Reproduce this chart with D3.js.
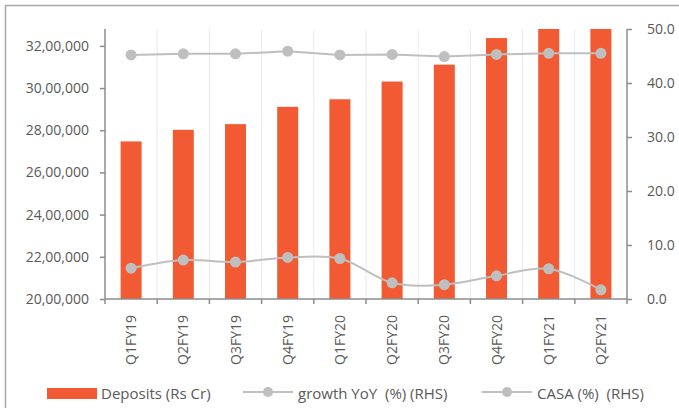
<!DOCTYPE html>
<html><head><meta charset="utf-8">
<script src="https://cdn.jsdelivr.net/npm/d3@7"></script>
<style>body{margin:0;background:#fff}svg{display:block}text{font-family:"Open Sans",sans-serif;fill:#595959}</style>
</head><body><svg id="c" width="679" height="408"></svg>
<script>
const categories = ["Q1FY19","Q2FY19","Q3FY19","Q4FY19","Q1FY20","Q2FY20","Q3FY20","Q4FY20","Q1FY21","Q2FY21"];
const deposits = [2747000,2802000,2829000,2911000,2947000,3031000,3111000,3237000,3280000,3280000];
const growthYoY = [5.7,7.2,6.85,7.7,7.5,3.0,2.65,4.3,5.6,1.7];
const casa = [45.2,45.4,45.4,45.9,45.2,45.3,44.9,45.3,45.5,45.5];
const leftTicks = [2000000,2200000,2400000,2600000,2800000,3000000,3200000];
const rightTicks = [0,10,20,30,40,50];
const seriesNames = ["Deposits (Rs Cr)","growth YoY  (%) (RHS)","CASA (%)  (RHS)"];

const svg = d3.select("#c");
const L=105, R=627, T=29, B=299;
const barColor="#f15a32", lineColor="#bfbfbf";

svg.append("rect").attr("x",5.5).attr("y",5.5).attr("width",690).attr("height",420)
  .attr("fill","none").attr("stroke","#a6a6a6").attr("stroke-width",1.5);

const x = d3.scaleBand().domain(categories).range([L,R]).padding(0);
const yL = d3.scaleLinear().domain([2000000,3280000]).range([B,T]).clamp(true);
const yR = d3.scaleLinear().domain([0,50]).range([B,T]);

const bounds = categories.map(c=>x(c)).slice(1);
svg.append("g").selectAll("line").data(bounds).join("line")
  .attr("x1",d=>d).attr("x2",d=>d).attr("y1",T).attr("y2",B)
  .attr("stroke","#ebebeb").attr("stroke-width",1);

const bw = 21;
svg.append("g").selectAll("rect").data(deposits).join("rect")
  .attr("x",(d,i)=>x(categories[i])+x.bandwidth()/2-bw/2)
  .attr("y",d=>yL(d)).attr("width",bw).attr("height",d=>B-yL(d))
  .attr("fill",barColor);

const fmtIN = v => { const s=String(v); const last3=s.slice(-3); let rest=s.slice(0,-3); rest=rest.replace(/\B(?=(\d{2})+(?!\d))/g,","); return rest? rest+","+last3 : last3; };
const gL = svg.append("g").attr("transform",`translate(${L},0)`)
  .call(d3.axisLeft(yL).tickValues(leftTicks).tickFormat(fmtIN).tickSizeOuter(0).tickSize(5).tickPadding(11));
gL.select(".domain").remove();
gL.append("line").attr("x1",0).attr("x2",0).attr("y1",T).attr("y2",B).attr("stroke","#8c8c8c").attr("stroke-width",1.5);
gL.selectAll(".tick line").attr("stroke","#8c8c8c").attr("stroke-width",1.5);
gL.selectAll("text").style("font-size","14px").attr("fill","#595959");

const gR = svg.append("g").attr("transform",`translate(${R},0)`)
  .call(d3.axisRight(yR).tickValues(rightTicks).tickFormat(d3.format(".1f")).tickSizeOuter(0).tickSize(5).tickPadding(15));
gR.select(".domain").remove();
gR.append("line").attr("x1",0).attr("x2",0).attr("y1",T).attr("y2",B).attr("stroke","#8c8c8c").attr("stroke-width",1.5);
gR.selectAll(".tick line").attr("stroke","#8c8c8c").attr("stroke-width",1.5);
gR.selectAll("text").style("font-size","14px").attr("fill","#595959");

const gX = svg.append("g");
gX.append("line").attr("x1",L).attr("x2",R).attr("y1",B).attr("y2",B).attr("stroke","#8c8c8c").attr("stroke-width",1.5);
const allBounds = categories.map(c=>x(c)).concat([x(categories[categories.length-1])+x.bandwidth()]);
gX.selectAll(".tk").data(allBounds).join("line").attr("class","tk")
  .attr("x1",d=>d).attr("x2",d=>d).attr("y1",B).attr("y2",B+5).attr("stroke","#8c8c8c").attr("stroke-width",1.5);
gX.selectAll("text").data(categories).join("text")
  .attr("transform",d=>`translate(${x(d)+x.bandwidth()/2+5},${B+16}) rotate(-90)`)
  .attr("text-anchor","end").style("font-size","14px").text(d=>d);

const cx = i => x(categories[i])+x.bandwidth()/2;
const lineStraight = d3.line().x((d,i)=>cx(i)).y(d=>yR(d));
const lineSmooth = d3.line().x((d,i)=>cx(i)).y(d=>yR(d)).curve(d3.curveCatmullRom.alpha(0.5));
svg.append("path").datum(growthYoY).attr("d",lineSmooth).attr("fill","none").attr("stroke",lineColor).attr("stroke-width",2);
svg.append("path").datum(casa).attr("d",lineStraight).attr("fill","none").attr("stroke",lineColor).attr("stroke-width",2);
[growthYoY,casa].forEach(s=>{
  svg.append("g").selectAll("circle").data(s).join("circle")
    .attr("cx",(d,i)=>cx(i)).attr("cy",d=>yR(d)).attr("r",5.5).attr("fill",lineColor);
});

const lg = svg.append("g");
lg.append("rect").attr("x",47).attr("y",388).attr("width",50).attr("height",11).attr("fill",barColor);
lg.append("text").attr("x",101).attr("y",398.5).style("font-size","15px").text(seriesNames[0]);
[[243,298,seriesNames[1]],[482,537,seriesNames[2]]].forEach(([x0,tx,t])=>{
  lg.append("line").attr("x1",x0).attr("x2",x0+50).attr("y1",392).attr("y2",392).attr("stroke",lineColor).attr("stroke-width",2);
  lg.append("circle").attr("cx",x0+25).attr("cy",392).attr("r",5).attr("fill",lineColor);
  lg.append("text").attr("x",tx).attr("y",398.5).style("font-size","15px").style("white-space","pre").attr("xml:space","preserve").text(t);
});
</script></body></html>
